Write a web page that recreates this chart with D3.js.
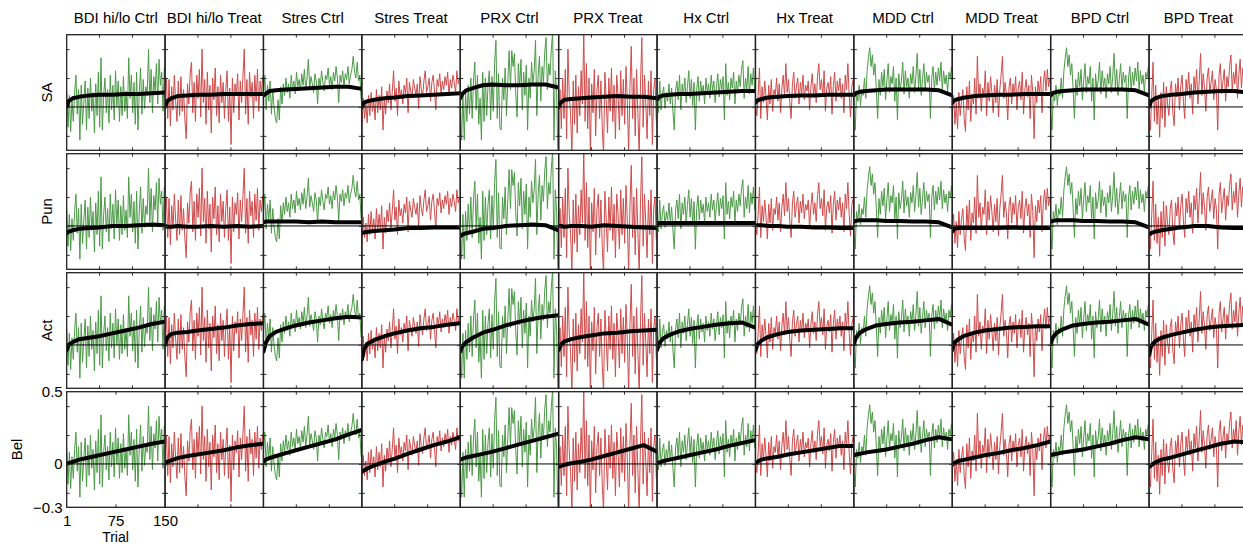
<!DOCTYPE html>
<html lang="en">
<head>
<meta charset="utf-8">
<title>Trial traces by group</title>
<style>
body { margin: 0; background: #fff; }
svg { display: block; font-family: "Liberation Sans", Arial, sans-serif; }
.colTitle { font-size: 15px; text-anchor: middle; fill: #000; }
.rowLabel { font-size: 15px; text-anchor: middle; fill: #000; }
.axisLabel { font-size: 14px; text-anchor: middle; fill: #000; }
.trace { fill: none; stroke-width: 1; }
.mean { fill: none; stroke: #000; stroke-width: 4; stroke-linejoin: round; stroke-linecap: round; }
.zero { stroke: #000; stroke-width: 1; }
.box { fill: none; stroke: #222; stroke-width: 1.3; }
</style>
</head>
<body>
<div id="chart"></div>
<script src="https://d3js.org/d3.v7.min.js"></script>
<script>
// column titles and row labels
var groups = ['BDI hi/lo Ctrl', 'BDI hi/lo Treat', 'Stres Ctrl', 'Stres Treat', 'PRX Ctrl', 'PRX Treat',
              'Hx Ctrl', 'Hx Treat', 'MDD Ctrl', 'MDD Treat', 'BPD Ctrl', 'BPD Treat'];
var rowNames = ['SA', 'Pun', 'Act', 'Bel'];
var yTickLabels = [-0.3, 0, 0.5];
var xTickLabels = [1, 75, 150];

// trial numbers of the coloured trace (every other trial) and of the black mean line
var traceTrials = d3.range(1, 150, 2);
var meanTrials = [1, 4, 10, 20, 35, 50, 70, 90, 110, 130, 150];

// coloured single-subject traces (hundredths), same trace in every row of a column
var traceBdiCtrl = [11,-14,8,-17,5,-10,10,22,-5,12,-23,15,-12,4,18,-16,13,-8,20,-3,10,-18,16,-6,24,-14,34,-16,8,20,-4,12,-11,22,-2,15,-9,25,0,18,-10,14,-6,21,-3,11,-8,34,6,22,-4,17,-12,24,-16,10,27,-5,19,-1,14,8,40,3,26,-4,21,11,30,2,33,15,24,-3,27];
var traceBdiTreat = [5,20,-8,19,-13,14,-2,22,4,-10,18,-6,21,-3,12,-9,-22,16,2,23,31,-4,17,-10,22,6,26,-7,40,3,19,-12,24,-2,15,-18,20,5,27,-6,14,-11,22,3,17,-8,12,25,-10,13,-26,20,-4,16,8,23,-9,18,3,21,40,-5,19,-12,24,7,17,-8,22,4,26,-3,18,10,21];
var traceStresCtrl = [10,22,-2,15,4,18,-5,12,0,-8,-11,5,-9,14,2,16,8,20,10,16,6,22,12,18,9,24,14,19,11,23,15,26,12,20,33,13,21,16,10,23,18,2,20,14,25,17,11,22,19,27,15,21,12,24,18,28,20,3,22,17,25,14,23,19,28,16,22,26,35,24,20,31,18,22,5];
var traceStresTreat = [-13,6,-8,2,-11,8,-6,10,-3,5,-9,12,-4,8,-2,14,-16,6,-5,11,3,16,-2,10,25,4,13,-6,18,7,12,2,15,9,20,-4,17,11,6,19,13,8,16,-1,21,12,7,18,25,10,14,20,4,17,22,11,-2,19,14,23,9,18,12,21,15,24,8,19,13,22,17,10,25,16,20];
var tracePrxCtrl = [2,-23,8,-23,10,-10,15,-5,20,-8,18,31,-2,22,-12,6,-23,24,-10,20,-6,15,25,-9,21,-3,30,46,-8,23,-15,-16,20,5,27,-6,18,39,12,39,28,37,10,-7,30,14,33,-2,24,8,29,-16,20,6,31,16,25,46,-6,22,35,4,28,17,38,48,12,30,22,40,52,-23,25,10,-33];
var tracePrxTreat = [-2,12,-15,20,-8,26,-22,40,8,-5,-33,18,-12,22,-18,14,-6,25,2,52,-10,30,-15,20,-33,16,-4,26,-20,12,22,-8,18,-14,-33,24,5,-18,20,-3,27,-10,15,-22,22,8,-16,25,-6,19,-12,28,4,-33,14,42,-8,20,-20,26,-4,-33,16,48,-14,22,2,-22,18,-6,25,-26,12,20,-10];
var traceHxCtrl = [12,-4,18,-2,9,14,-1,10,4,16,2,13,-3,-16,11,18,5,22,-2,16,8,20,3,14,25,6,19,1,17,-16,12,21,4,18,9,15,2,20,10,16,6,22,11,18,3,14,23,7,19,12,21,-9,30,8,17,5,20,13,24,2,18,10,22,14,26,32,6,20,12,28,9,23,15,27,11];
var traceHxTreat = [2,-6,8,27,-8,14,3,18,6,-9,15,2,19,-3,12,8,20,4,16,-4,13,22,7,30,10,19,3,-8,16,24,6,14,20,2,17,9,22,5,15,11,18,-2,14,23,8,16,3,21,30,12,19,7,25,-3,13,17,9,21,-5,15,24,4,18,11,20,6,16,-4,22,12,30,8,-7,14,19];
var traceMddCtrl = [-6,-16,10,4,15,1,12,8,20,6,25,34,41,28,36,22,30,12,-8,19,8,24,14,26,5,18,30,10,21,16,28,4,20,-9,23,12,18,31,9,25,14,20,6,23,16,28,10,21,37,13,26,8,19,30,12,24,17,22,-8,20,28,11,24,15,27,18,31,12,25,16,22,10,24,20,28];
var traceMddTreat = [-4,8,-12,3,-15,10,-6,5,12,-8,-17,14,-2,18,-10,9,2,20,-5,35,6,16,-3,13,8,25,-6,17,4,21,10,-4,15,3,19,-7,12,22,35,6,17,9,-9,14,20,2,16,8,21,-2,13,18,5,24,-5,12,19,7,15,-8,22,10,-22,14,3,18,9,21,-4,16,25,11,26,14,20];
var traceBpdCtrl = traceMddCtrl; // identical in the figure
var traceBpdTreat = [-2,-16,8,31,-10,15,-12,6,-21,10,-8,17,-14,14,2,-6,12,18,-4,-13,16,7,20,-2,14,22,4,-8,19,9,24,6,16,-5,21,11,26,2,18,37,8,23,13,-3,20,27,10,17,25,5,19,12,-16,22,30,9,18,26,4,21,14,28,36,11,24,16,30,6,22,33,13,27,18,35,20];
var traces = [traceBdiCtrl, traceBdiTreat, traceStresCtrl, traceStresTreat, tracePrxCtrl, tracePrxTreat,
              traceHxCtrl, traceHxTreat, traceMddCtrl, traceMddTreat, traceBpdCtrl, traceBpdTreat];

// black group means (hundredths) at meanTrials, one list per column
var meanSA = [
  [0,4,6,7,8,8.5,8.5,9,9,9.5,10],
  [0,4,6,7.5,8,8.5,8.5,9,9,9,9],
  [8,9,11,11.5,12,12.5,13,13.5,14,14,12.5],
  [0,3,4,5,6,6.5,7.5,8,8.5,9,9.5],
  [6,9,11.5,13,15,15.5,15,15,15.5,15.5,13.5],
  [0,3,5,5.5,6,6.5,7,7.5,7,7,6],
  [5,7,8,8.5,9,9,9.5,10,10.5,11,11],
  [3,4.5,5.5,6.5,7,7.5,8,8,8.5,8.5,8.5],
  [8,9.5,10.5,11,11.5,12,12,12,12,11.5,8],
  [3,4.5,5.5,6.5,7.5,8,8.5,8.5,9,9,9],
  [8,9.5,10.5,11,11.5,12,12,12,12,11.5,8],
  [0,4,6,7.5,8.5,9,10,10.5,11,11,10]
];
var meanPun = [
  [-5,-4,-3,-2,-1.5,-1,0,0,0.5,1,0.5],
  [0,-0.5,-0.5,0,-0.5,-0.5,0,-0.5,0,-0.5,0],
  [2.5,3,3,3,3,3,2.5,3,2.5,2.5,2.5],
  [-5,-4.5,-4,-3.5,-3,-2.5,-1.5,-1.5,-1,-1,-1],
  [-7,-6,-5,-4,-2,-1.5,0,0.5,1,0.5,-3],
  [0,0,-0.5,0,0,-0.5,0.5,0,-0.5,-1,-1.5],
  [1.5,2,2,2,2,2,2,2,2,2,2],
  [0.5,0.5,0.5,0,0,-0.5,-0.5,-1,-1,-1.5,-1.5],
  [3,3.5,4,4,4,3.5,3.5,3,3,2.5,-1],
  [-4,-2,-1.5,-1.5,-1.5,-1.5,-1.5,-1,-1.5,-1.5,-1.5],
  [3,3.5,4,4,4,3.5,3.5,3,3,2.5,-1],
  [-6,-5,-4,-3,-2,-1,0,0,-1,-1.5,-1.5]
];
var meanAct = [
  [-3.5,0,2,4,5,6,8,10,12,14.5,16],
  [0,5,7.5,8.5,9,10,11,12,13.5,14.5,15],
  [-4.5,1,6,9,11.5,13.5,15.5,17,18.5,19.5,19],
  [-10,-3,1,3.5,6,8,10,11.5,12.5,14,15],
  [-4.5,-1,2,5,8.5,10.5,13.5,16,18,19.5,20.5],
  [-3.5,0,2.5,4,5.5,6.5,8,8.5,9.5,10,10.5],
  [-3.5,1,4.5,7,9.5,11,12.5,14,15,15.5,12],
  [-3.5,0.5,3,5.5,7.5,9,10,10.5,11,11.5,11.5],
  [1,5,8.5,11,13.5,14.5,15.5,16,17,18,14],
  [-3.5,1.5,4,6.5,8.5,10,11,12,12.5,13,13],
  [1,5,8.5,11,13.5,14.5,15.5,16,17,18,14],
  [-7,-1,2.5,5,7,8.5,10.5,12,13,13.5,14]
];
var meanBel = [
  [0,0.5,1.5,3,4.5,6,8,10,12,14,15.5],
  [0,1.5,2.5,4,5.5,6.5,8,9.5,11.5,13,14],
  [1.5,3,4,5.5,7.5,9.5,12,14.5,17,20.5,23.5],
  [-5.5,-4.5,-3,-1,1.5,3.5,7,10,13,15.5,18.5],
  [3,3.5,4.5,5.5,7,8.5,11,13.5,16,18.5,21],
  [-2,-1.5,-0.5,0.5,1.5,3,5.5,8,10.5,13,8.5],
  [0.5,1,2,3,4.5,6,8,10,12.5,14.5,16.5],
  [1,1.5,3,4,5,6.5,8,9.5,11,12.5,12.5],
  [6,6.5,7,8,9,10,12,14,16.5,18.5,17],
  [-0.5,0.5,2,3,4.5,6,7.5,9.5,11,13,15.5],
  [6,6.5,7,8,9,10,12,14,16.5,18.5,17],
  [-2,-1,1,3,4.5,6.5,9,11.5,14,15.5,15]
];
var means = [meanSA, meanPun, meanAct, meanBel];

var green = '#4c9a47', red = '#cf4b4b';

// layout
var width = 1243, height = 544;
var left0 = 66.7, colStep = 98.4, top0 = 34.7, rowStep = 119;
var panelW = 98.3, panelH = 115.6;

var x = d3.scaleLinear().domain([1, 150]).range([0, panelW]);
var y = d3.scaleLinear().domain([-0.3, 0.5]).range([panelH, 0]);

var svg = d3.select('#chart').append('svg')
  .attr('width', width)
  .attr('height', height);

var traceLine = d3.line()
  .x(function(d, i) { return x(traceTrials[i]); })
  .y(function(d) { return y(d / 100); });
var meanLine = d3.line()
  .x(function(d, i) { return x(meanTrials[i]); })
  .y(function(d) { return y(d / 100); });

function innerTicks(sel) {
  sel.select('.domain').remove();
  sel.selectAll('.tick line').attr('stroke', '#333');
}

rowNames.forEach(function(rowName, r) {
  groups.forEach(function(group, c) {
    var g = svg.append('g')
      .attr('transform', 'translate(' + (left0 + c * colStep) + ',' + (top0 + r * rowStep) + ')');
    var clipId = 'clip-' + r + '-' + c;
    g.append('clipPath').attr('id', clipId)
      .append('rect').attr('width', panelW).attr('height', panelH);
    var plot = g.append('g').attr('clip-path', 'url(#' + clipId + ')');

    plot.append('path')
      .datum(traces[c])
      .attr('class', 'trace')
      .attr('stroke', c % 2 === 0 ? green : red)
      .attr('d', traceLine);
    plot.append('line')
      .attr('class', 'zero')
      .attr('x1', 0).attr('x2', panelW)
      .attr('y1', y(0)).attr('y2', y(0));
    plot.append('path')
      .datum(means[r][c])
      .attr('class', 'mean')
      .attr('d', meanLine);

    // inward tick marks on all four sides
    var labelled = (r === 3 && c === 0);
    var xTicks = labelled ? [75] : [50, 100];
    var yTicks = [-0.2, 0, 0.2, 0.4];
    g.append('g').call(d3.axisLeft(y).tickValues(yTicks).tickSize(-3).tickFormat('')).call(innerTicks);
    g.append('g').attr('transform', 'translate(' + panelW + ',0)')
      .call(d3.axisRight(y).tickValues(yTicks).tickSize(-3).tickFormat('')).call(innerTicks);
    g.append('g').call(d3.axisTop(x).tickValues(xTicks).tickSize(-3).tickFormat('')).call(innerTicks);
    g.append('g').attr('transform', 'translate(0,' + panelH + ')')
      .call(d3.axisBottom(x).tickValues(xTicks).tickSize(-3).tickFormat('')).call(innerTicks);

    g.append('rect')
      .attr('class', 'box')
      .attr('width', panelW)
      .attr('height', panelH);

    if (labelled) {
      g.append('g')
        .call(d3.axisLeft(y).tickValues(yTickLabels).tickSize(0).tickPadding(4).tickFormat(d3.format('~g')))
        .call(function(a) {
          a.select('.domain').remove();
          a.attr('font-size', 15).attr('font-family', null);
        });
      g.append('g')
        .attr('transform', 'translate(0,' + panelH + ')')
        .call(d3.axisBottom(x).tickValues(xTickLabels).tickSize(0).tickPadding(8))
        .call(function(a) {
          a.select('.domain').remove();
          a.attr('font-size', 15).attr('font-family', null);
        });
      g.append('text')
        .attr('class', 'axisLabel')
        .attr('x', x(75))
        .attr('y', panelH + 34.5)
        .text('Trial');
    }

    if (r === 0) {
      svg.append('text')
        .attr('class', 'colTitle')
        .attr('x', left0 + c * colStep + panelW / 2)
        .attr('y', 23)
        .text(group);
    }
  });

  var labelX = r === 3 ? 17 : 47;
  svg.append('text')
    .attr('class', 'rowLabel')
    .attr('transform', 'translate(' + labelX + ',' + (top0 + r * rowStep + panelH / 2) + ') rotate(-90)')
    .attr('dy', '0.35em')
    .text(rowName);
});
</script>
</body>
</html>
